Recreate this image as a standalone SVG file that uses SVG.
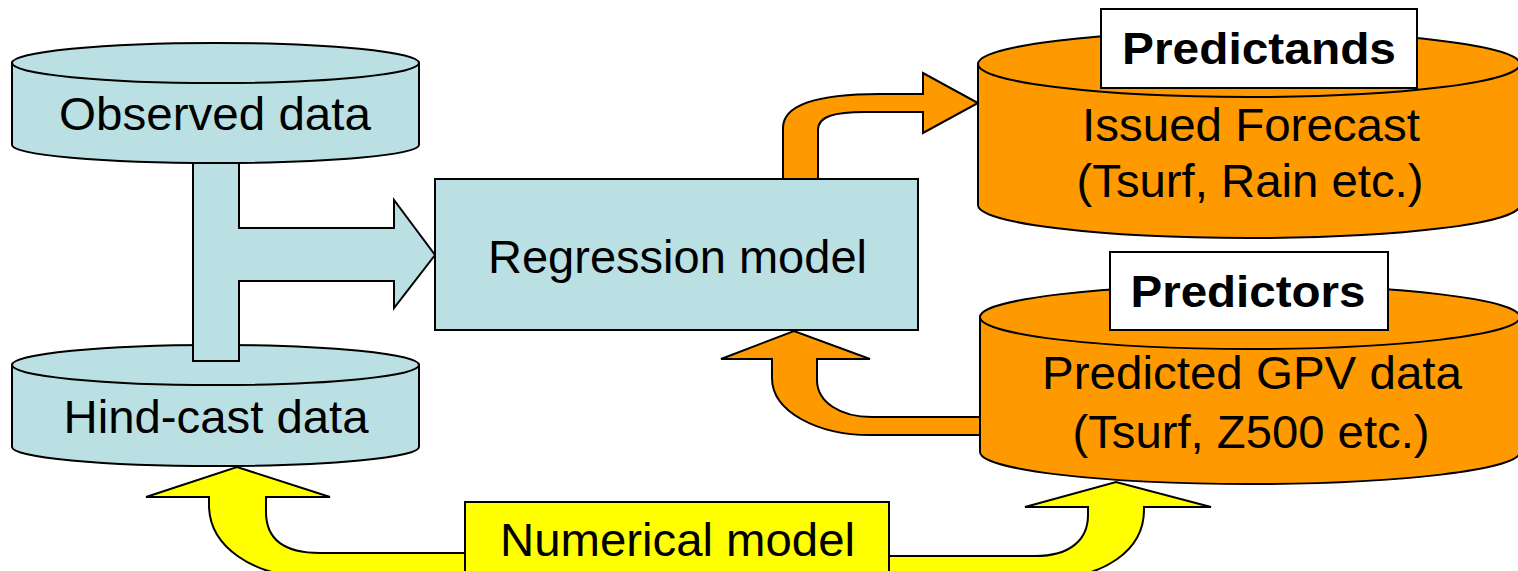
<svg xmlns="http://www.w3.org/2000/svg" width="1518" height="571" viewBox="0 0 1518 571">
<style>
.blue{fill:#BBE0E3;stroke:#000;stroke-width:2}
.orange{fill:#FF9900;stroke:#000;stroke-width:2}
.yellow{fill:#FFFF00;stroke:#000;stroke-width:2}
.white{fill:#FFFFFF;stroke:#000;stroke-width:2}
text{font-family:"Liberation Sans",Arial,sans-serif;font-size:47px;fill:#000;text-anchor:middle}
.b{font-weight:bold;font-size:45px}
</style>
<rect width="1518" height="571" fill="#FFFFFF"/>
<g id="connectors">
  <path class="yellow" d="M 465 553 L 320 553 C 285 553 266 540 266 512 L 266 497 L 330 497 L 237 467 L 146 497 L 209 497 L 209 505 C 209 545 250 578 320 578 L 465 578 Z"/>
  <path class="yellow" d="M 889 556 L 1035 556 C 1070 556 1088 540 1088 515 L 1088 507 L 1025 507 L 1116 482 L 1211 507 L 1144 507 L 1144 510 C 1144 548 1108 580 1035 580 L 889 580 Z"/>
  <path class="orange" d="M 980 435 L 870 435 C 818 435 772 412 772 378 L 772 359 L 721 359 L 794 331 L 870 359 L 817 359 L 817 380 C 817 402 840 417 872 417 L 980 417 Z"/>
</g>
<g id="hindcast">
  <path class="blue" d="M 12 365 L 12 447 A 203.5 19 0 0 0 419 447 L 419 365 Z"/>
  <ellipse class="blue" cx="215.5" cy="365" rx="203.5" ry="20"/>
  <text x="216" y="433" textLength="305" lengthAdjust="spacingAndGlyphs">Hind-cast data</text>
</g>
<g id="t-arrow">
  <path class="blue" d="M 193 150 L 239 150 L 239 228 L 394 228 L 394 200 L 435 255 L 394 308 L 394 281 L 239 281 L 239 361 L 193 361 Z"/>
</g>
<g id="observed">
  <path class="blue" d="M 12 63 L 12 145 A 203.5 18 0 0 0 419 145 L 419 63 Z"/>
  <ellipse class="blue" cx="215.5" cy="63" rx="203.5" ry="20"/>
  <text x="215" y="130" textLength="312" lengthAdjust="spacingAndGlyphs">Observed data</text>
</g>
<g id="regression">
  <rect class="blue" x="435" y="179" width="483" height="151"/>
  <text x="677.5" y="273" textLength="379" lengthAdjust="spacingAndGlyphs">Regression model</text>
</g>
<g id="arrow-out">
  <path class="orange" d="M 783 179 L 783 128 C 783 102 825 94 880 94 L 923 94 L 923 73 L 978 103 L 923 133 L 923 112 L 865 112 C 835 112 818 116 818 130 L 818 179 Z"/>
</g>
<g id="predictands">
  <path class="orange" d="M 978 64 L 978 205 A 271 33 0 0 0 1520 205 L 1520 64 Z"/>
  <ellipse class="orange" cx="1249" cy="64" rx="271" ry="33"/>
  <text x="1251" y="141" textLength="338" lengthAdjust="spacingAndGlyphs">Issued Forecast</text>
  <text x="1250" y="197" textLength="347" lengthAdjust="spacingAndGlyphs">(Tsurf, Rain etc.)</text>
  <rect class="white" x="1101" y="9" width="316" height="79"/>
  <text class="b" x="1259" y="64" textLength="274" lengthAdjust="spacingAndGlyphs">Predictands</text>
</g>
<g id="predictors">
  <path class="orange" d="M 980 317 L 980 452 A 270 32 0 0 0 1520 452 L 1520 317 Z"/>
  <ellipse class="orange" cx="1250" cy="317" rx="270" ry="32"/>
  <text x="1252" y="389" textLength="420" lengthAdjust="spacingAndGlyphs">Predicted GPV data</text>
  <text x="1251" y="448" textLength="357" lengthAdjust="spacingAndGlyphs">(Tsurf, Z500 etc.)</text>
  <rect class="white" x="1110" y="252" width="278" height="78"/>
  <text class="b" x="1248" y="307" textLength="235" lengthAdjust="spacingAndGlyphs">Predictors</text>
</g>
<g id="numerical">
  <rect class="yellow" x="465" y="502" width="424" height="100"/>
  <text x="677.5" y="556" textLength="355" lengthAdjust="spacingAndGlyphs">Numerical model</text>
</g>
</svg>
